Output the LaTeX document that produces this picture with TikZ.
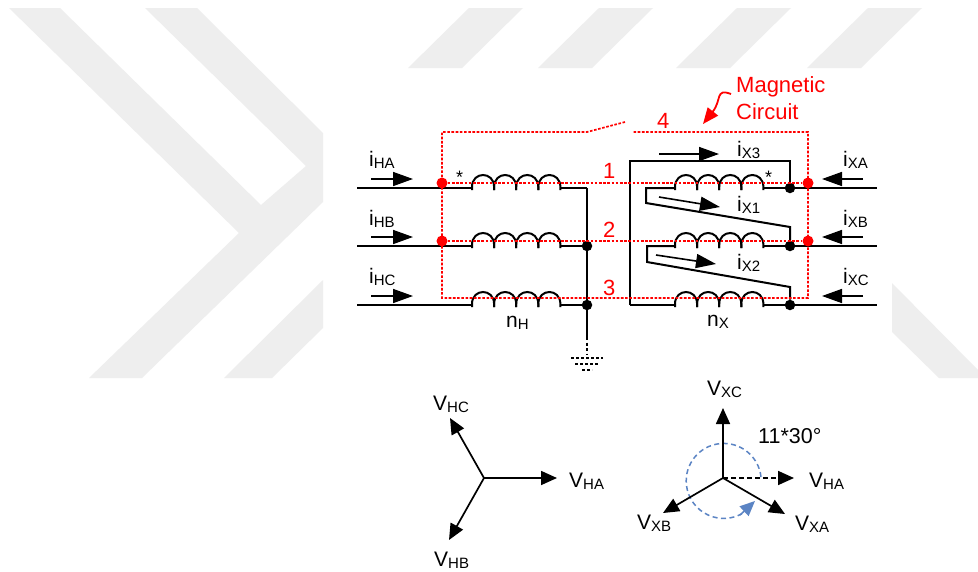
\documentclass[tikz,border=0pt]{standalone}
\usepackage{fontspec}
\setmainfont{Liberation Sans}
\usetikzlibrary{calc}
\usetikzlibrary{arrows.meta}
\definecolor{markgray}{HTML}{EEEEEE}
\definecolor{phaseblue}{HTML}{5B84C4}
\newcommand{\sublbl}[2]{#1\raisebox{-2.5pt}{\fontsize{15}{15}\selectfont #2}}
\newcommand{\coilrow}[2]{
\foreach \k [evaluate=\k as \xa using #1+22.1*\k, evaluate=\k as \xb using #1+22.1*\k+22.1] in {0,...,3} {
 \draw[wire] (\xa,#2+2) --(\xa,#2-1) .. controls +(0,-16) and +(0,-16) .. (\xb,#2-1) --(\xb,#2+2);
}
}
\tikzset{
 wire/.style={black, line width=2pt},
 flux/.style={red, line width=1.7pt, dash pattern=on 2.6pt off 1.6pt},
 cur/.style={black, line width=1.6pt, -{Stealth[length=20pt,width=14pt,inset=0pt]}},
 phasor/.style={black, line width=1.7pt, -{Stealth[length=16pt,width=14pt,inset=0pt]}},
 lbl/.style={anchor=base west, inner sep=0, font=\fontsize{21}{21}\selectfont},
 redlbl/.style={lbl, red, font=\fontsize{22}{22}\selectfont},
 jointb/.style={circle, fill=black, inner sep=0, minimum size=10.5pt},
 jointr/.style={circle, fill=red, inner sep=0, minimum size=11pt},
}
\begin{document}
\begin{tikzpicture}[x=1pt,y=-1pt]
\useasboundingbox (0,0) rectangle (978,571);
\fill[white] (0,0) rectangle (978,571);
% watermark
\fill[markgray] (9,8)--(60,8)--(261,205)--(306,166)--(145,8)--(197,8)--(323,133)--(323,202)--(142,378)--(89,378)--(239,233)--cycle;
\fill[markgray] (323,280)--(323,328)--(272,378)--(224,378)--cycle;
\fill[markgray] (892,283)--(892,332)--(939,378)--(978,378)--(978,370)--cycle;
\foreach \x in {408,538,676,807} {
 \fill[markgray] (\x,68)--++(54,0)--++(61,-60)--++(-54,0)--cycle;
}
% named points of the circuit
\coordinate (nx) at (587,188);
\coordinate (gnd) at (587,337);
\coordinate (gnde) at (587,355);
\coordinate (bl) at (630,305);
\coordinate (tl) at (630,161);
\coordinate (tr) at (790,161);
\node[jointb] (xa) at (790,188) {};
\node[jointb] (xb) at (790,246) {};
\node[jointb] (xc) at (790,305) {};
\node[jointb] (nb) at (587,246) {};
\node[jointb] (nc) at (587,305) {};
% primary and secondary rows
\foreach \y/\n in {188/A,246/B,305/C} {
 \draw[wire] (357,\y)--(472,\y);
 \coilrow{472}{\y}
 \draw[wire] (560,\y)--(587,\y);
 \coilrow{675}{\y}
 \draw[wire] (763,\y)--(877,\y);
}
\draw[wire] (nx)--(gnd);
\draw[black, line width=1.6pt, dash pattern=on 3pt off 2.5pt] (gnd)--(gnde);
\foreach \w/\y in {16/358,12/364,5/370} {
 \draw[black, line width=1.6pt, dash pattern=on 3pt off 2pt] (587-\w,\y)--(587+\w,\y);
}
\draw[wire] (bl)--(tl)--(tr)--(xa);
\draw[wire] (bl)--(675,305);
\draw[wire] (675,188)--(646,188)--(646,203)--(790,227)--(xb);
\draw[wire] (675,246)--(647,246)--(647,262)--(790,287)--(xc);
% magnetic circuit
\node[jointr] (ra) at (442,183) {};
\node[jointr] (rb) at (442,241) {};
\node[jointr] (rc) at (808,183) {};
\node[jointr] (rd) at (808,241) {};
\draw[flux] (625,122)--(587,132)--(442,132)--(442,298)--(808,298)--(808,132)--(632,132);
\draw[flux] (ra)--(rc);
\draw[flux] (rb)--(rd);
\node[redlbl] (n1) at (603,178) {1};
\node[redlbl] (n2) at (603,237) {2};
\node[redlbl] (n3) at (603,295) {3};
\node[redlbl] (n4) at (657,128) {4};
\node[redlbl] (magn) at (736,92) {Magnetic};
\node[redlbl] (circ) at (736,119) {Circuit};
\draw[red, line width=1.8pt, -{Stealth[length=16pt,width=13pt,inset=0pt]}] (731,94) .. controls (715,88) and (722,100) .. (703,124);
% currents
\foreach \y/\n/\b in {179/A/166,237/B/225,296/C/283} {
 \draw[cur] (371,\y)--(413,\y);
 \draw[cur] (863,\y)--(822,\y);
 \node[lbl] (iH\n) at (369,\b) {\sublbl{i}{H\n}};
 \node[lbl] (iX\n) at (843,\b) {\sublbl{i}{X\n}};
}
\draw[cur] (659,154)--(719,154);
\draw[cur] (659,197)--(720,207);
\draw[cur] (656,255)--(716,264);
\node[lbl] (ix3) at (737,156) {\sublbl{i}{X3}};
\node[lbl] (ix1) at (737,211) {\sublbl{i}{X1}};
\node[lbl] (ix2) at (737,269) {\sublbl{i}{X2}};
\node[lbl] (nH) at (506,327) {\sublbl{n}{H}};
\node[lbl] (nX) at (707,326) {\sublbl{n}{X}};
\node[lbl, font=\fontsize{18}{18}\selectfont] (s1) at (456,183) {*};
\node[lbl, font=\fontsize{18}{18}\selectfont] (s2) at (765,183) {*};
% phasors
\coordinate (oH) at (484,478);
\coordinate (oX) at (723,478);
\draw[phasor] (oH)--(557,478);
\draw[phasor] (oH)--(450,418);
\draw[phasor] (oH)--(449,540);
\node[lbl] (vha) at (569,487) {\sublbl{V}{HA}};
\node[lbl] (vhc) at (433,410) {\sublbl{V}{HC}};
\node[lbl] (vhb) at (434,566) {\sublbl{V}{HB}};
\draw[phaseblue, line width=1.5pt, dash pattern=on 5pt off 3.5pt] (761,477) arc[start angle=6, end angle=300, radius=37.5pt];
\draw[phaseblue, line width=1.5pt, -{Stealth[length=15pt,width=13pt,inset=0pt]}] (740,515)--(755,501);
\draw[phasor] (oX)--(723,408);
\draw[phasor] (oX)--(663,513);
\draw[phasor] (oX)--(785,514);
\draw[phasor, dash pattern=on 5pt off 3pt] (oX)--(794,478);
\node[lbl] (vxc) at (707,395) {\sublbl{V}{XC}};
\node[lbl] (vxh) at (809,487) {\sublbl{V}{HA}};
\node[lbl] (vxb) at (637,529) {\sublbl{V}{XB}};
\node[lbl] (vxa) at (795,530) {\sublbl{V}{XA}};
\node[lbl, font=\fontsize{21.5}{21.5}\selectfont] (ang) at (758,443) {11*30°};
\end{tikzpicture}
\end{document}
